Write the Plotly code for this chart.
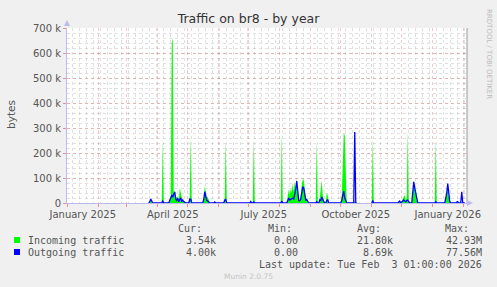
import plotly.graph_objects as go

# ---------------- data ----------------
dates = [
    "2025-03-23", "2025-03-24", "2025-03-25", "2025-03-26", "2025-03-27",
    "2025-04-04", "2025-04-05", "2025-04-06", "2025-04-07",
    "2025-04-12", "2025-04-13", "2025-04-14", "2025-04-15", "2025-04-16", "2025-04-17",
    "2025-04-18", "2025-04-19", "2025-04-20", "2025-04-21", "2025-04-22", "2025-04-23",
    "2025-04-24", "2025-04-25", "2025-04-26", "2025-04-27", "2025-04-28", "2025-04-29",
    "2025-05-02", "2025-05-03", "2025-05-04", "2025-05-05",
    "2025-05-16", "2025-05-17", "2025-05-18", "2025-05-19", "2025-05-20", "2025-05-21",
    "2025-05-22", "2025-05-23", "2025-05-27", "2025-05-28", "2025-05-29",
    "2025-06-06", "2025-06-07", "2025-06-08", "2025-06-09",
    "2025-07-02", "2025-07-03", "2025-07-04", "2025-07-05", "2025-07-06", "2025-07-07",
    "2025-08-02", "2025-08-03", "2025-08-04",
    "2025-08-08", "2025-08-09", "2025-08-10", "2025-08-11", "2025-08-12", "2025-08-13",
    "2025-08-14", "2025-08-15", "2025-08-16", "2025-08-17", "2025-08-18", "2025-08-19",
    "2025-08-20", "2025-08-21", "2025-08-22", "2025-08-23", "2025-08-24", "2025-08-25",
    "2025-08-26", "2025-08-27", "2025-08-28", "2025-08-29", "2025-08-30",
    "2025-09-06", "2025-09-07", "2025-09-08", "2025-09-09", "2025-09-10", "2025-09-11",
    "2025-09-12", "2025-09-13", "2025-09-14", "2025-09-15", "2025-09-16", "2025-09-17",
    "2025-09-18", "2025-09-19",
    "2025-10-01", "2025-10-02", "2025-10-03", "2025-10-04", "2025-10-05", "2025-10-06",
    "2025-10-07", "2025-10-14", "2025-10-15", "2025-10-16", "2025-10-17",
    "2025-10-25",
    "2025-11-01", "2025-11-02", "2025-11-03",
    "2025-11-27", "2025-11-28", "2025-11-29", "2025-11-30", "2025-12-01", "2025-12-02",
    "2025-12-03", "2025-12-04", "2025-12-05", "2025-12-06", "2025-12-07", "2025-12-08",
    "2025-12-09", "2025-12-11", "2025-12-12", "2025-12-13", "2025-12-14", "2025-12-15",
    "2025-12-16", "2025-12-17",
    "2026-01-03", "2026-01-04", "2026-01-05",
    "2026-01-13", "2026-01-14", "2026-01-15", "2026-01-16", "2026-01-17", "2026-01-18",
    "2026-01-19", "2026-01-24", "2026-01-25", "2026-01-26", "2026-01-27",
    "2026-01-29", "2026-01-30", "2026-01-31", "2026-02-02",
]
incoming_k = [
    0, 5, 14, 5, 0,
    0, 0, 255, 0,
    0, 15, 30, 640, 660, 40,
    35, 20, 25, 15, 10, 60,
    40, 10, 5, 10, 5, 0,
    0, 20, 270, 0,
    0, 20, 68, 50, 20, 25,
    5, 0, 0, 0, 0,
    0, 15, 250, 0,
    0, 5, 0, 0, 250, 0,
    0, 280, 0,
    0, 20, 55, 30, 60, 40,
    80, 45, 85, 60, 92, 50,
    15, 10, 30, 70, 95, 90,
    40, 25, 15, 5, 0,
    0, 250, 0, 0, 20, 60,
    90, 30, 10, 0, 0, 40,
    30, 0,
    0, 30, 150, 280, 270, 60,
    0, 0, 10, 0, 0,
    None,
    0, 255, 0,
    0, 5, 10, 0, 8, 15,
    20, 32, 10, 20, 290, 10,
    0, 0, 30, 85, 60, 30,
    10, 0,
    0, 250, 0,
    0, 20, 50, 60, 25, 5,
    0, 0, 8, 10, 0,
    0, 5, 0, 0,
]
outgoing_k = [
    0, 5, 16, 8, 0,
    0, 2, 8, 0,
    0, 10, 25, 30, 25, 40,
    45, 15, 10, 20, 5, 15,
    20, 5, 12, 6, 3, 0,
    0, 15, 15, 0,
    0, 15, 45, 20, 10, 8,
    3, 0, 0, 4, 0,
    0, 12, 14, 0,
    0, 6, 0, 0, 4, 0,
    0, 8, 0,
    0, 10, 20, 12, 15, 18,
    20, 15, 30, 55, 88, 40,
    10, 8, 15, 40, 65, 60,
    20, 10, 14, 3, 0,
    0, 5, 0, 0, 12, 10,
    24, 12, 5, 0, 0, 10,
    12, 0,
    0, 10, 30, 48, 20, 8,
    0, 0, 284, 0, 0,
    None,
    0, 10, 0,
    0, 4, 8, 0, 5, 10,
    12, 8, 5, 10, 12, 5,
    0, 0, 40, 85, 60, 35,
    10, 0,
    0, 5, 0,
    0, 20, 40, 78, 30, 5,
    0, 0, 4, 5, 0,
    0, 45, 0, 0,
]

y_ticks = [0, 100000, 200000, 300000, 400000, 500000, 600000, 700000]
y_tick_text = ["0", "100 k", "200 k", "300 k", "400 k", "500 k", "600 k", "700 k"]
x_label_dates = ["2025-01-16", "2025-04-16", "2025-07-16", "2025-10-16", "2026-01-16"]
x_label_text = ["January 2025", "April 2025", "July 2025", "October 2025", "January 2026"]

legend_names = ["Incoming traffic", "Outgoing traffic"]
stat_headers = ["Cur:", "Min:", "Avg:", "Max:"]
stats_in = ["3.54k", "0.00", "21.80k", "42.93M"]
stats_out = ["4.00k", "0.00", "8.69k", "77.56M"]
last_update = "Last update: Tue Feb \u00a03 01:00:00 2026"

incoming = [None if v is None else v * 1000 for v in incoming_k]
outgoing = [None if v is None else v * 1000 for v in outgoing_k]

# ---------------- geometry helpers ----------------
W, H = 497, 287
PL, PR, PT, PB = 67, 467, 28, 203


def px(x):
    return (x - PL) / (PR - PL)


def py(y):
    return (PB - y) / (PB - PT)


GREEN = "#00FF00"
BLUE = "#0000FF"
TXT = "#555555"
MAJOR = "rgba(225,110,110,0.38)"
MINOR = "rgba(160,160,160,0.32)"

fig = go.Figure()
fig.add_trace(go.Scatter(
    x=dates, y=incoming, mode="lines", fill="tozeroy",
    line=dict(color=GREEN, width=0), fillcolor=GREEN,
    connectgaps=False, showlegend=False, hoverinfo="skip"))
fig.add_trace(go.Scatter(
    x=dates, y=outgoing, mode="lines",
    line=dict(color=BLUE, width=1.3),
    connectgaps=False, showlegend=False, hoverinfo="skip"))
# invisible trace carrying the month labels on an overlaying axis
fig.add_trace(go.Scatter(x=[x_label_dates[0]], y=[None], xaxis="x2",
                         showlegend=False, hoverinfo="skip"))

xrange = ["2024-12-31 06:00", "2026-02-04 06:00"]

fig.update_layout(
    width=W, height=H,
    margin=dict(l=PL, r=W - PR, t=PT, b=H - PB),
    paper_bgcolor="#F0F0F0", plot_bgcolor="#FFFFFF",
    font=dict(family="DejaVu Sans", size=10, color=TXT),
    title=dict(text="Traffic on br8 - by year", x=0.5, xanchor="center",
               y=1 - 19 / H, yanchor="middle", yref="container",
               font=dict(family="DejaVu Sans", size=12.5, color="#333333")),
    xaxis=dict(
        type="date", range=xrange, showticklabels=False,
        tick0="2025-01-01", dtick="M1",
        ticks="outside", ticklen=3, tickcolor="rgba(230,80,80,0.6)",
        showgrid=True, gridcolor=MAJOR, griddash="dot", gridwidth=1,
        minor=dict(tick0="2024-12-30", dtick=7 * 86400000, showgrid=True,
                   gridcolor=MINOR, griddash="dot", gridwidth=1),
        showline=True, linecolor="#BBBBEE", linewidth=1,
        zeroline=False, fixedrange=True,
    ),
    xaxis2=dict(
        type="date", range=xrange, overlaying="x", side="bottom", anchor="y",
        tickmode="array", tickvals=x_label_dates, ticktext=x_label_text,
        ticks="", showgrid=False, showline=False, zeroline=False,
        tickfont=dict(family="DejaVu Sans", size=10, color=TXT),
        ticklabelstandoff=4,
    ),
    yaxis=dict(
        range=[0, 700000], tickmode="array", tickvals=y_ticks, ticktext=y_tick_text,
        ticks="outside", ticklen=3, tickcolor="rgba(230,80,80,0.6)",
        tickfont=dict(family="DejaVu Sans", size=10, color=TXT),
        showgrid=True, gridcolor=MAJOR, griddash="dot", gridwidth=1,
        minor=dict(dtick=20000, showgrid=True, gridcolor=MINOR,
                   griddash="dot", gridwidth=1),
        showline=True, linecolor="#BBBBEE", linewidth=1,
        zeroline=False, fixedrange=True,
    ),
)

ann = []


def text(x, y, s, anchor="left", size=10, color=TXT, family="DejaVu Sans Mono", angle=0):
    ann.append(dict(x=px(x), y=py(y), xref="paper", yref="paper", text=s,
                    showarrow=False, xanchor=anchor, yanchor="middle",
                    borderpad=0, textangle=angle,
                    font=dict(family=family, size=size, color=color)))


# axis title and watermark
text(11, 114, "bytes", anchor="center", size=10.5, family="DejaVu Sans", angle=-90)
text(489, 54, "RRDTOOL / TOBI OETIKER", anchor="center", size=7,
     color="#BBBBBB", family="DejaVu Sans", angle=90)

# legend block
header_right = [203, 293, 382, 470]
value_right = [217, 299, 394, 483]
for hx, h in zip(header_right, stat_headers):
    text(hx, 228, h, anchor="right")
for row_y, name, vals in [(240, legend_names[0], stats_in), (252, legend_names[1], stats_out)]:
    text(27, row_y, name)
    for vx, v in zip(value_right, vals):
        text(vx, row_y, v, anchor="right")
text(483, 264, last_update, anchor="right")
text(223, 276, "Munin 2.0.75", anchor="left", size=7.5, color="#C4C4C4", family="DejaVu Sans")

shapes = []
for row_y, col in [(240, GREEN), (252, BLUE)]:
    shapes.append(dict(type="rect", xref="paper", yref="paper",
                       x0=px(14), x1=px(20), y0=py(row_y + 3), y1=py(row_y - 3),
                       fillcolor=col, line=dict(width=0)))
# right border line and axis arrows
shapes.append(dict(type="line", xref="paper", yref="paper", x0=1, x1=1, y0=0, y1=1,
                   line=dict(color="#999999", width=1)))
shapes.append(dict(type="path", xref="paper", yref="paper",
                   path=f"M {px(64)} {py(26)} L {px(70)} {py(26)} L {px(67)} {py(20)} Z",
                   fillcolor="#BBBBEE", line=dict(width=0)))
shapes.append(dict(type="path", xref="paper", yref="paper",
                   path=f"M {px(467)} {py(200)} L {px(467)} {py(206)} L {px(473)} {py(203)} Z",
                   fillcolor="#BBBBEE", line=dict(width=0)))

fig.update_layout(annotations=ann, shapes=shapes)

fig.write_html("out.html")
